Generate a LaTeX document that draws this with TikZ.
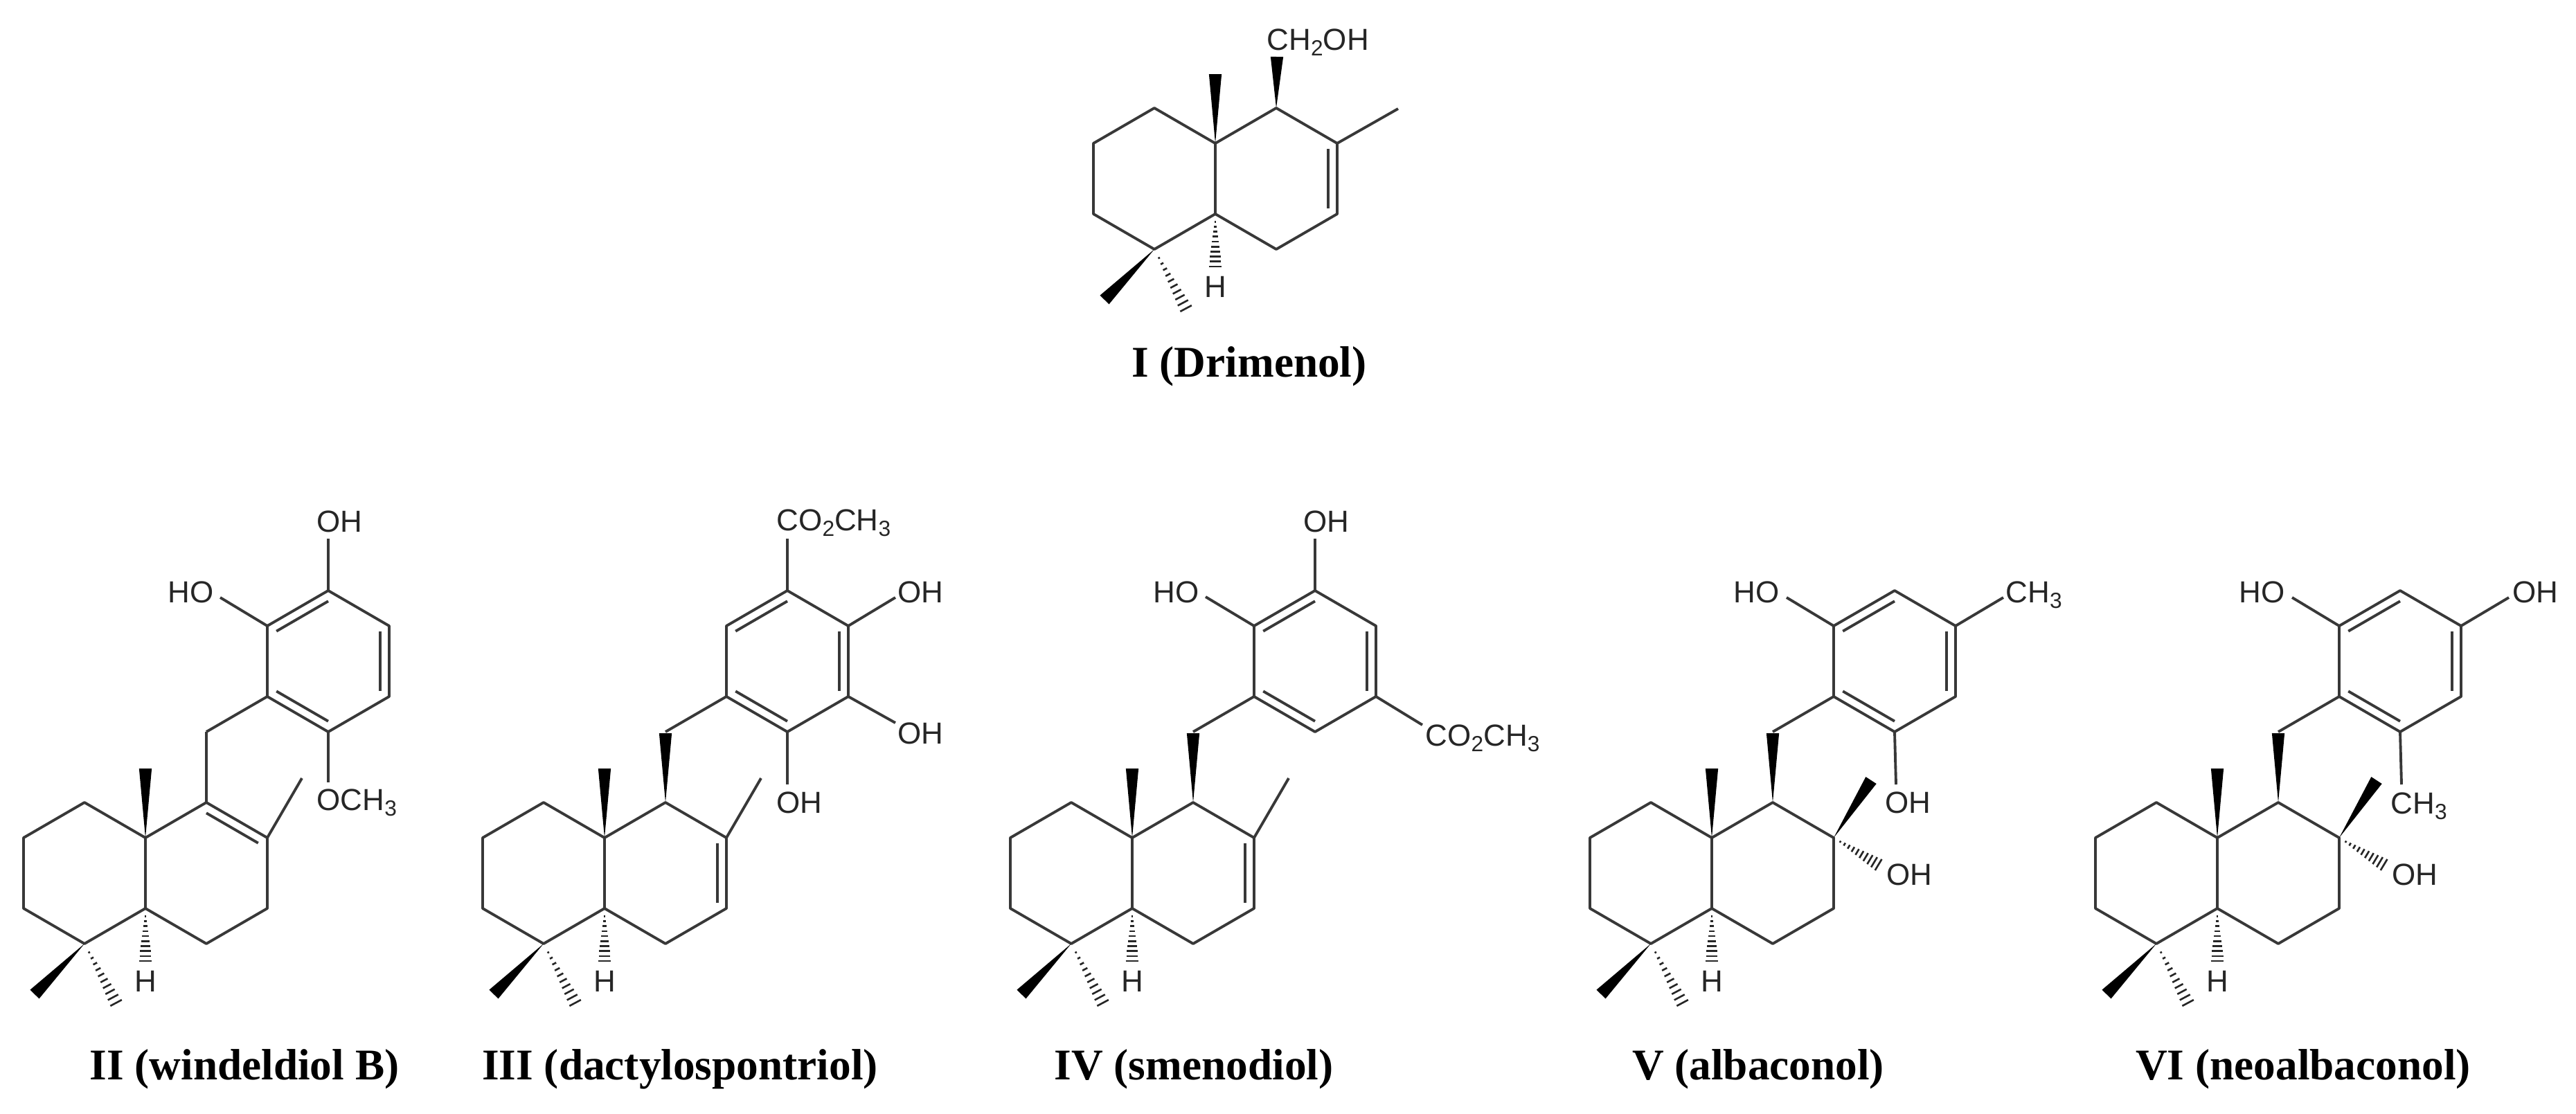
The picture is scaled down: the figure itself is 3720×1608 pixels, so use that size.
\documentclass[tikz,border=0pt]{standalone}
\usepackage{fontspec}
\setmainfont{Liberation Serif}
\newfontfamily\atomf{Liberation Sans}
\usetikzlibrary{calc}
\newcommand\chsub[1]{\raisebox{-0.35ex}{\fontsize{9}{9}\selectfont #1}}
\tikzset{
  bond/.style={line width=1.1pt, draw=black!78, line join=round},
  hashl/.style={line width=0.75pt, draw=black!85},
  atom/.style={font=\atomf\fontsize{12.5}{14}\selectfont, inner sep=0pt, text height=8.95pt, text depth=0pt, text=black!85},
  cname/.style={font=\bfseries\fontsize{18}{21}\selectfont, inner sep=0pt}
}
\newcommand\wdg[2]{\fill[black] #1 -- ($#2!2.6pt!90:#1$) -- ($#2!2.6pt!-90:#1$) -- cycle;}
\newcommand\hsh[2]{\path #1 coordinate (hA) #2 coordinate (hB);
  \foreach \t in {0.14,0.23,...,1.0}{\draw[hashl] ($(hA)!\t!(hB)!{\t*2.8pt}!90:(hA)$) -- ($(hA)!\t!(hB)!{\t*2.8pt}!-90:(hA)$);}}
\newcommand\dbl[3]{\draw[bond] ($#1!0.15!#3$) -- ($#2!0.15!#3$);}
\newcommand\core{
  \coordinate (c10) at (0,0); \coordinate (c5) at (0,102); \coordinate (c4) at (-88,153);
  \coordinate (a3) at (-176,102); \coordinate (a2) at (-176,0); \coordinate (a1) at (-88,-51);
  \coordinate (c9) at (88,-51); \coordinate (c8) at (176,0); \coordinate (c7) at (176,102); \coordinate (c6) at (88,153);
  \coordinate (cb) at (88,51);
  \draw[bond] (c10)--(c5)--(c4)--(a3)--(a2)--(a1)--cycle;
  \draw[bond] (c10)--(c9)--(c8)--(c7)--(c6)--(c5);
  \wdg{(c10)}{(0,-100)}
  \hsh{(c5)}{(0,182)}
  \node[atom] (h) at (0,207) {H};
  \wdg{(c4)}{(-160,226)}
  \hsh{(c4)}{(-40,243)}
}
\newcommand\arom{
  \coordinate (ch) at (88,-153);
  \coordinate (r1) at (176,-204); \coordinate (r2) at (176,-306); \coordinate (r3) at (264,-357);
  \coordinate (r4) at (352,-306); \coordinate (r5) at (352,-204); \coordinate (r6) at (264,-153);
  \coordinate (rc) at (264,-255);
  \draw[bond] (ch)--(r1);
  \draw[bond] (r1)--(r2)--(r3)--(r4)--(r5)--(r6)--cycle;
  \dbl{(r2)}{(r3)}{(rc)} \dbl{(r4)}{(r5)}{(rc)} \dbl{(r6)}{(r1)}{(rc)}
}
\begin{document}
\begin{tikzpicture}[x=0.01cm,y=-0.01cm]
\useasboundingbox (0,0) rectangle (3720,1608);
% I
\begin{scope}[shift={(1755,207)}]
  \core
  \dbl{(c8)}{(c7)}{(cb)}
  \draw[bond] (c8) -- (264,-50);
  \wdg{(c9)}{(89,-125)}
  \node[atom,anchor=west] (ch2oh) at (74,-150) {CH\chsub{2}OH};
\end{scope}
\node[cname] (nI) at (1804,529) {I (Drimenol)};
% II
\begin{scope}[shift={(210,1210)}]
  \core
  \dbl{(c9)}{(c8)}{(cb)}
  \draw[bond] (c9) -- (88,-153);
  \arom
  \draw[bond] (c8) -- (226,-86);
  \draw[bond] (r2) -- (108,-347); \node[atom,anchor=east] (ho) at (99,-355) {HO};
  \draw[bond] (r3) -- (264,-432); \node[atom,anchor=west] (oh) at (247,-457) {OH};
  \draw[bond] (r6) -- (264,-80); \node[atom,anchor=west] (och) at (247,-55) {OCH\chsub{3}};
\end{scope}
\node[cname] (nII) at (353,1544) {II (windeldiol B)};
% III
\begin{scope}[shift={(873,1210)}]
  \core
  \dbl{(c8)}{(c7)}{(cb)}
  \wdg{(c9)}{(88,-151)}
  \arom
  \draw[bond] (c8) -- (226,-86);
  \draw[bond] (r3) -- (264,-432); \node[atom,anchor=west] (co) at (248,-459) {CO\chsub{2}CH\chsub{3}};
  \draw[bond] (r4) -- (420,-347); \node[atom,anchor=west] (oha) at (423,-355) {OH};
  \draw[bond] (r5) -- (420,-166); \node[atom,anchor=west] (ohb) at (423,-151) {OH};
  \draw[bond] (r6) -- (264,-77); \node[atom,anchor=west] (ohc) at (248,-51) {OH};
\end{scope}
\node[cname] (nIII) at (982,1544) {III (dactylospontriol)};
% IV
\begin{scope}[shift={(1635,1210)}]
  \core
  \dbl{(c8)}{(c7)}{(cb)}
  \wdg{(c9)}{(88,-151)}
  \arom
  \draw[bond] (c8) -- (226,-86);
  \draw[bond] (r2) -- (106,-348); \node[atom,anchor=east] (ho) at (97,-355) {HO};
  \draw[bond] (r3) -- (264,-432); \node[atom,anchor=west] (oh) at (247,-457) {OH};
  \draw[bond] (r5) -- (419,-163); \node[atom,anchor=west] (co) at (423,-148) {CO\chsub{2}CH\chsub{3}};
\end{scope}
\node[cname] (nIV) at (1724,1544) {IV (smenodiol)};
% V
\begin{scope}[shift={(2472,1210)}]
  \core
  \wdg{(c9)}{(88,-151)}
  \arom
  \draw[bond] (r2) -- (108,-347); \node[atom,anchor=east] (ho) at (98,-355) {HO};
  \draw[bond] (r4) -- (421,-347); \node[atom,anchor=west] (me) at (424,-355) {CH\chsub{3}};
  \draw[bond] (r6) -- (266,-77); \node[atom,anchor=west] (oh) at (250,-51) {OH};
  \wdg{(c8)}{(230,-83)}
  \hsh{(c8)}{(244,41)}
  \node[atom,anchor=west] (ohd) at (252,53) {OH};
\end{scope}
\node[cname] (nV) at (2539,1544) {V (albaconol)};
% VI
\begin{scope}[shift={(3202,1210)}]
  \core
  \wdg{(c9)}{(88,-151)}
  \arom
  \draw[bond] (r2) -- (108,-347); \node[atom,anchor=east] (ho) at (98,-355) {HO};
  \draw[bond] (r4) -- (421,-347); \node[atom,anchor=west] (oh) at (426,-355) {OH};
  \draw[bond] (r6) -- (266,-77); \node[atom,anchor=west] (me) at (250,-50) {CH\chsub{3}};
  \wdg{(c8)}{(230,-83)}
  \hsh{(c8)}{(244,41)}
  \node[atom,anchor=west] (ohd) at (252,53) {OH};
\end{scope}
\node[cname] (nVI) at (3326,1544) {VI (neoalbaconol)};
\end{tikzpicture}
\end{document}
